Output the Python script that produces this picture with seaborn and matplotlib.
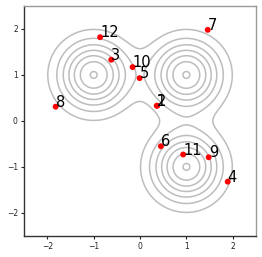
import numpy as np
import pandas as pd
import matplotlib
matplotlib.use("Agg")
import matplotlib.pyplot as plt
import seaborn as sns

# centres of the gaussian mixture (sigma 0.5, equal weights)
centres_x = [-1.0, 1.0, 1.0]
centres_y = [1.0, 1.0, -1.0]
sigma = 0.5

# labelled points
labels = ["1", "2", "3", "4", "5", "6", "7", "8", "9", "10", "11", "12"]
pts_x = [0.36, 0.37, -0.62, 1.89, -0.01, 0.45, 1.46, -1.82, 1.48, -0.16, 0.93, -0.86]
pts_y = [0.33, 0.33, 1.33, -1.32, 0.93, -0.55, 1.98, 0.31, -0.79, 1.17, -0.73, 1.82]

df = pd.DataFrame({"x": pts_x, "y": pts_y, "label": labels})

sns.set_style("ticks")
fig = plt.figure(figsize=(2.62, 2.57), dpi=100)
ax = fig.add_axes([0.092, 0.082, 0.885, 0.895])

gx = np.linspace(-2.5, 2.5, 400)
gy = np.linspace(-2.5, 2.5, 400)
X, Y = np.meshgrid(gx, gy)
Z = np.zeros_like(X)
for cx, cy in zip(centres_x, centres_y):
    Z += np.exp(-((X - cx) ** 2 + (Y - cy) ** 2) / (2 * sigma ** 2)) / (2 * np.pi * sigma ** 2)
Z /= len(centres_x)

ax.contour(X, Y, Z, colors="#bdbdbd", linewidths=1.1)

sns.scatterplot(data=df, x="x", y="y", color="red", s=18, edgecolor="none", ax=ax, zorder=3)
for _, r in df.iterrows():
    ax.text(r["x"], r["y"], r["label"], fontsize=10.5, color="black", zorder=4)

ax.set_xlim(-2.5, 2.5)
ax.set_ylim(-2.5, 2.5)
ax.set_xticks([-2, -1, 0, 1, 2])
ax.set_yticks([-2, -1, 0, 1, 2])
ax.set_xlabel("")
ax.set_ylabel("")
ax.tick_params(labelsize=5.5, length=2.5, width=0.8, pad=2, colors="#222222")
ax.spines["left"].set_color("#333333")
ax.spines["bottom"].set_color("#333333")
ax.spines["top"].set_color("#999999")
ax.spines["right"].set_color("#999999")
for s in ax.spines.values():
    s.set_linewidth(1.0)

fig.savefig("out.png", dpi=100)
